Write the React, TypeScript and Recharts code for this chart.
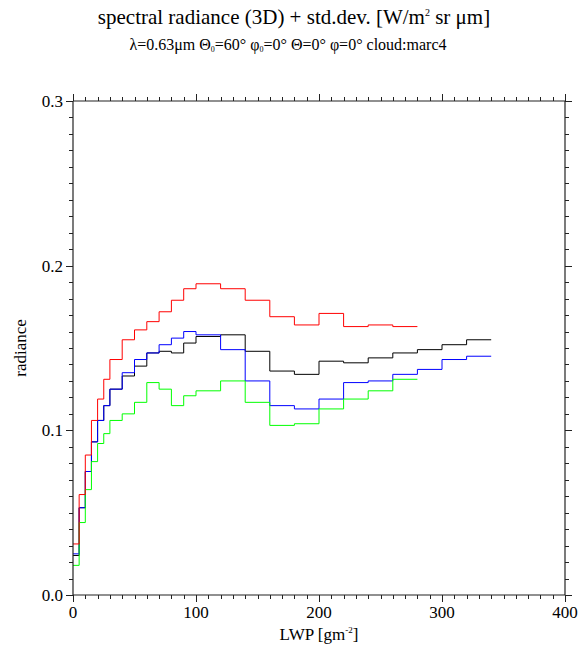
import React from 'react';
import { LineChart, Line, XAxis, YAxis } from 'recharts';

// bin edges along LWP [g/m^2]
const lwpEdges = [0, 5, 10, 15, 20, 25, 30, 40, 50, 60, 70, 80, 90, 100, 120, 140, 160, 180, 200, 220, 240, 260, 280, 300, 320, 340];

// radiance per LWP bin
const radRed = [0.031, 0.061, 0.085, 0.106, 0.119, 0.131, 0.143, 0.155, 0.161, 0.166, 0.172, 0.179, 0.186, 0.189, 0.186, 0.179, 0.169, 0.164, 0.171, 0.163, 0.164, 0.163];
const radBlack = [0.024, 0.053, 0.075, 0.093, 0.106, 0.115, 0.125, 0.133, 0.139, 0.147, 0.148, 0.147, 0.153, 0.157, 0.158, 0.148, 0.136, 0.134, 0.142, 0.141, 0.144, 0.147, 0.149, 0.152, 0.155];
const radBlue = [0.025, 0.053, 0.075, 0.093, 0.106, 0.115, 0.125, 0.135, 0.143, 0.147, 0.152, 0.156, 0.160, 0.158, 0.149, 0.130, 0.115, 0.113, 0.119, 0.129, 0.130, 0.134, 0.137, 0.143, 0.145];
const radGreen = [0.018, 0.044, 0.064, 0.081, 0.092, 0.098, 0.106, 0.110, 0.117, 0.129, 0.125, 0.115, 0.121, 0.124, 0.130, 0.117, 0.103, 0.104, 0.113, 0.119, 0.124, 0.131];

const xMajor = [0, 100, 200, 300, 400];
const yMajor = [0, 0.1, 0.2, 0.3];
const xMinor = Array.from({ length: 41 }, (_, i) => i * 10);
const yMinor = Array.from({ length: 31 }, (_, i) => i / 100);

const W = 581;
const H = 648;
const X_DOMAIN = [0, 400];
const Y_DOMAIN = [0, 0.3];
// plot box: margins below plus 1px taken by each axis
const BOX = { left: 73, right: 565, top: 101, bottom: 595 };
const AXIS = '#222';
const FONT = '"Liberation Serif", "DejaVu Serif", serif';
const tickFont = { fill: '#000', fontSize: 17, fontFamily: FONT };
const frame = { stroke: AXIS, strokeWidth: 1.2 };

// last value is repeated at the closing edge so the final step gets drawn
const toSteps = (values: number[]) =>
  values
    .map((v, i) => ({ lwp: lwpEdges[i], rad: v }))
    .concat({ lwp: lwpEdges[values.length], rad: values[values.length - 1] });

const series = [
  { name: 'black', color: '#000000', values: radBlack },
  { name: 'blue', color: '#0000ff', values: radBlue },
  { name: 'green', color: '#00ff00', values: radGreen },
  { name: 'red', color: '#ff0000', values: radRed },
];

const sx = (v: number) => BOX.left + ((v - X_DOMAIN[0]) / (X_DOMAIN[1] - X_DOMAIN[0])) * (BOX.right - BOX.left);
const sy = (v: number) => BOX.bottom - ((v - Y_DOMAIN[0]) / (Y_DOMAIN[1] - Y_DOMAIN[0])) * (BOX.bottom - BOX.top);
const crisp = (p: number) => Math.round(p) + 0.5;
const isMajorX = (v: number) => v % 100 === 0;
const isMajorY = (v: number) => Math.abs(v * 10 - Math.round(v * 10)) < 1e-6;

// outward tick marks on all four sides of the frame
const FrameTicks = () => {
  const d: string[] = [];
  xMinor.forEach((v) => {
    const x = crisp(sx(v));
    const len = isMajorX(v) ? 7 : 4;
    d.push(`M${x},${BOX.bottom}v${len}`, `M${x},${BOX.top}v${-len}`);
  });
  yMinor.forEach((v) => {
    const y = crisp(sy(v));
    const len = isMajorY(v) ? 7 : 4;
    d.push(`M${BOX.left},${y}h${-len}`, `M${BOX.right},${y}h${len}`);
  });
  return <path d={d.join('')} stroke={AXIS} strokeWidth={1} fill="none" />;
};

export default function App() {
  return (
    <div style={{ position: 'absolute', left: 0, top: 0, width: W, height: H, background: '#fff' }}>
      <LineChart width={W} height={H} margin={{ top: 100, right: 15, bottom: 52, left: 72 }}>
        <XAxis xAxisId="b" dataKey="lwp" type="number" domain={X_DOMAIN} ticks={xMajor} interval={0}
          height={1} tickSize={7} tickMargin={4} tick={tickFont} tickLine={false} axisLine={frame} />
        <XAxis xAxisId="t" orientation="top" dataKey="lwp" type="number" domain={X_DOMAIN} ticks={xMajor}
          interval={0} height={1} tickSize={0} tick={false} tickLine={false} axisLine={frame} />
        <YAxis yAxisId="l" type="number" domain={Y_DOMAIN} ticks={yMajor} interval={0} width={1}
          tickSize={7} tickMargin={3} tick={tickFont} tickFormatter={(v: number) => v.toFixed(1)}
          tickLine={false} axisLine={frame} />
        <YAxis yAxisId="r" orientation="right" type="number" domain={Y_DOMAIN} ticks={yMajor} interval={0}
          width={1} tickSize={0} tick={false} tickLine={false} axisLine={frame} />
        {series.map((s) => (
          <Line
            key={s.name}
            xAxisId="b"
            yAxisId="l"
            data={toSteps(s.values)}
            dataKey="rad"
            type="stepAfter"
            stroke={s.color}
            strokeWidth={1}
            dot={false}
            activeDot={false}
            isAnimationActive={false}
          />
        ))}
      </LineChart>
      <svg
        width={W}
        height={H}
        style={{ position: 'absolute', left: 0, top: 0, pointerEvents: 'none', whiteSpace: 'pre' }}
        fontFamily={FONT}
      >
        <FrameTicks />
        <text x={294} y={24} textAnchor="middle" fontSize={21}>
          spectral radiance (3D) + std.dev. [W/m
          <tspan fontSize={10} dy={-8}>2</tspan>
          <tspan dy={8}> sr μm]</tspan>
        </text>
        <text x={288} y={50} textAnchor="middle" fontSize={16}>
          {'λ=0.63μm  Θ'}
          <tspan fontSize={8} dy={2}>0</tspan>
          <tspan dy={-2}>{'=60°  φ'}</tspan>
          <tspan fontSize={8} dy={2}>0</tspan>
          <tspan dy={-2}>{'=0°  Θ=0°  φ=0° cloud:marc4'}</tspan>
        </text>
        <text x={319} y={640} textAnchor="middle" fontSize={17}>
          LWP [gm<tspan fontSize={9} dy={-7}>-2</tspan>
          <tspan dy={7}>]</tspan>
        </text>
        <text x={26} y={348} textAnchor="middle" fontSize={17} transform="rotate(-90 26 348)">
          radiance
        </text>
      </svg>
    </div>
  );
}
